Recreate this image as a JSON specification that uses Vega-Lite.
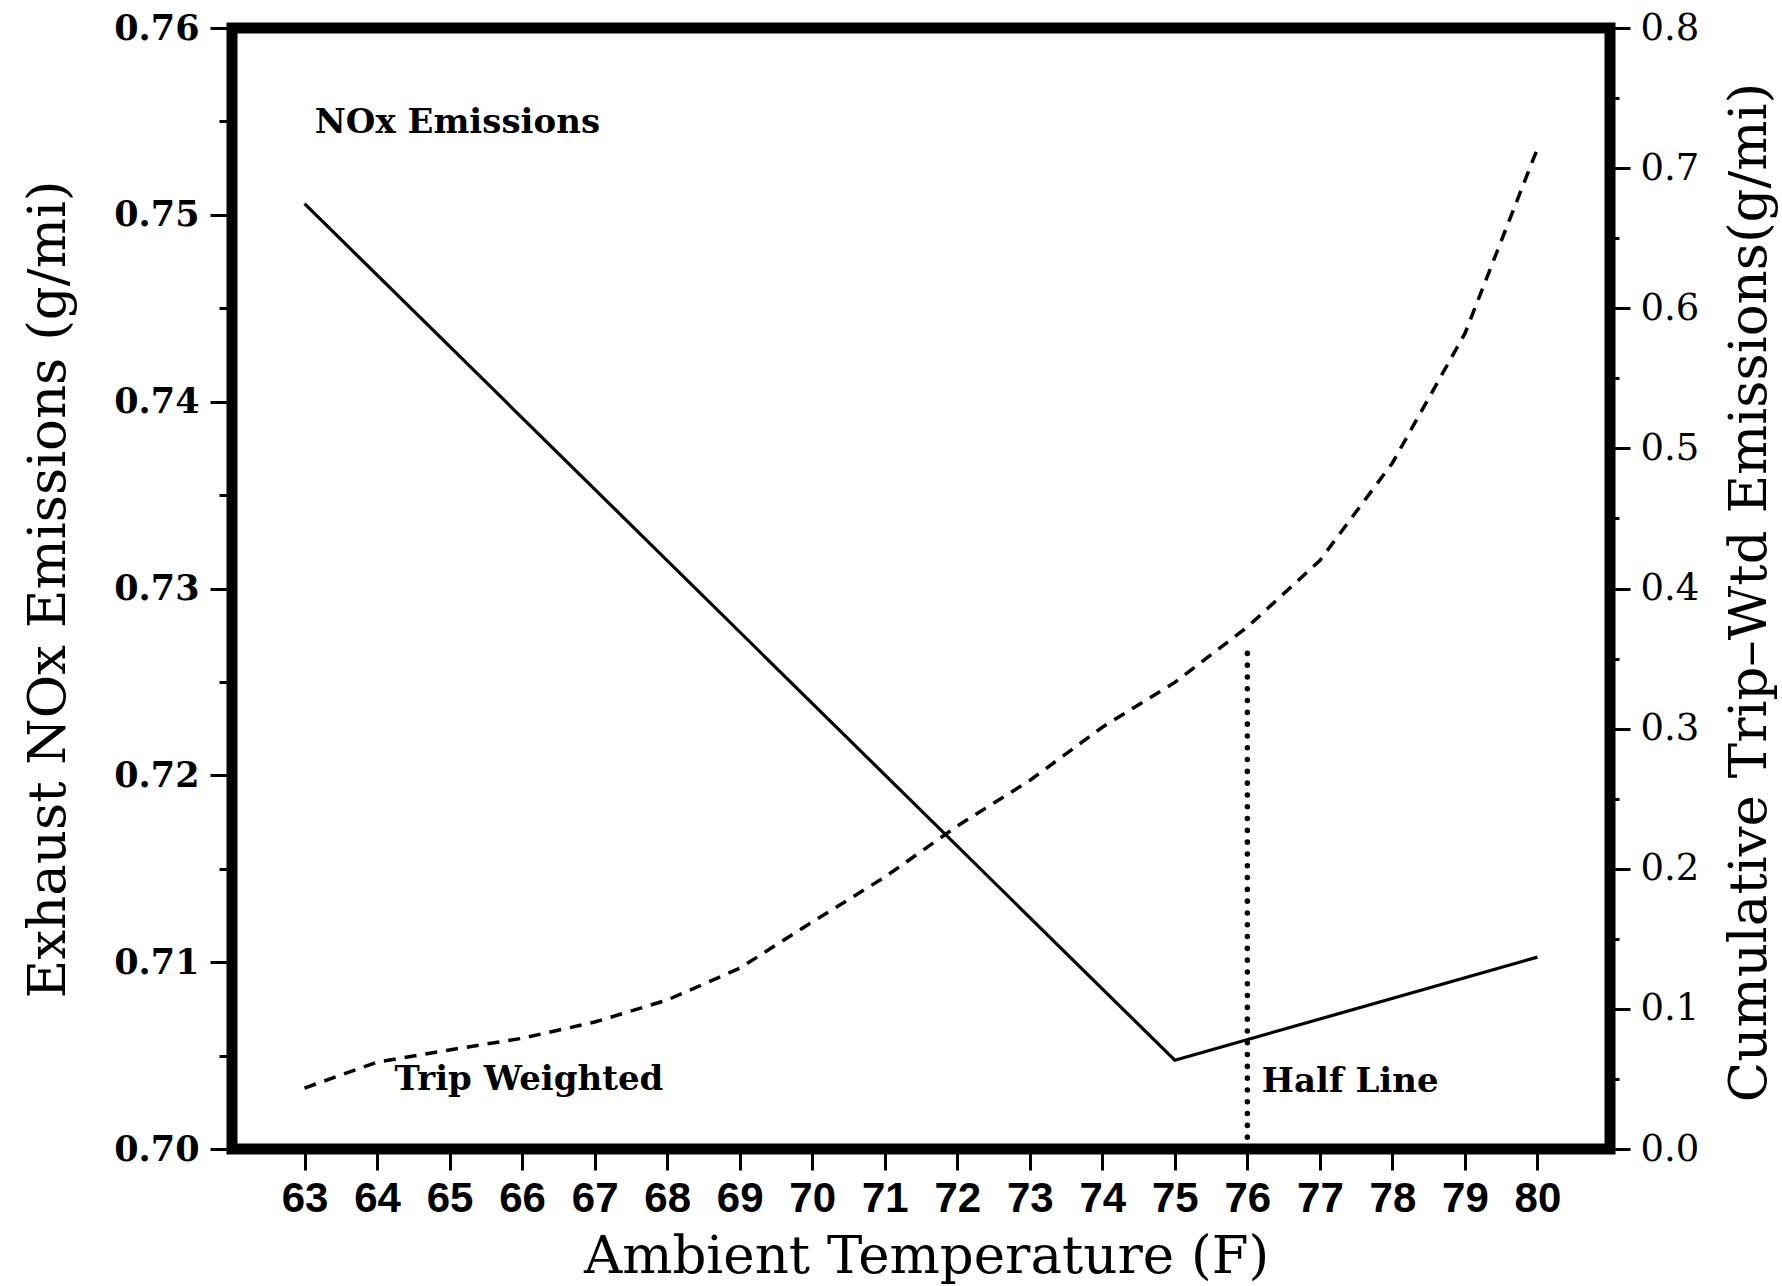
{
  "$schema": "https://vega.github.io/schema/vega-lite/v6.json",
  "width": 1378,
  "height": 1121,
  "autosize": {"type": "none"},
  "padding": {"left": 232, "top": 28, "right": 172, "bottom": 137},
  "background": "white",
  "config": {
    "view": {"stroke": "black", "strokeWidth": 11},
    "axis": {
      "domain": false,
      "grid": false,
      "tickColor": "black",
      "tickWidth": 3,
      "labelColor": "black",
      "titleColor": "black",
      "titleFont": "DejaVu Serif",
      "titleFontWeight": "normal",
      "titleFontSize": 53,
      "labelOverlap": false,
      "labelBound": false,
      "labelFlush": false
    }
  },
  "datasets": {
    "nox": [
      {"temp": 63, "nox": 0.7506},
      {"temp": 75, "nox": 0.70475},
      {"temp": 80, "nox": 0.71027}
    ],
    "labels": [
      {"temp": 63.14, "nox": 0.75438, "label": "NOx Emissions"},
      {"temp": 64.24, "nox": 0.70315, "label": "Trip Weighted"},
      {"temp": 76.2, "nox": 0.70304, "label": "Half Line"}
    ],
    "trip": [
      {"temp": 63, "cum": 0.0435},
      {"temp": 64, "cum": 0.062},
      {"temp": 65, "cum": 0.0707},
      {"temp": 66, "cum": 0.079},
      {"temp": 67, "cum": 0.0906},
      {"temp": 68, "cum": 0.1063},
      {"temp": 69, "cum": 0.129},
      {"temp": 70, "cum": 0.162},
      {"temp": 71, "cum": 0.194},
      {"temp": 72, "cum": 0.2305},
      {"temp": 73, "cum": 0.263},
      {"temp": 74, "cum": 0.301},
      {"temp": 75, "cum": 0.333},
      {"temp": 76, "cum": 0.3725},
      {"temp": 77, "cum": 0.42},
      {"temp": 78, "cum": 0.4896},
      {"temp": 79, "cum": 0.582},
      {"temp": 80, "cum": 0.714}
    ],
    "half": [
      {"temp": 76, "lo": 0, "hi": 0.358}
    ]
  },
  "encoding": {
    "x": {
      "field": "temp",
      "type": "quantitative",
      "scale": {"domain": [62, 81], "nice": false, "zero": false},
      "axis": {
        "orient": "bottom",
        "title": "Ambient Temperature (F)",
        "values": [63, 64, 65, 66, 67, 68, 69, 70, 71, 72, 73, 74, 75, 76, 77, 78, 79, 80],
        "tickSize": 21,
        "labelFont": "Liberation Sans",
        "labelFontWeight": "bold",
        "labelFontSize": 42,
        "labelPadding": 8,
        "titleX": 694,
        "titleY": 123,
        "titleAlign": "center",
        "titleBaseline": "alphabetic"
      }
    }
  },
  "layer": [
    {
      "layer": [
        {
          "data": {"name": "nox"},
          "mark": {"type": "line", "color": "black", "strokeWidth": 3.2},
          "encoding": {
            "y": {
              "field": "nox",
              "type": "quantitative",
              "scale": {"domain": [0.7, 0.76], "nice": false, "zero": false},
              "axis": {
                "orient": "left",
                "title": "Exhaust NOx Emissions (g/mi)",
                "values": [0.7, 0.705, 0.71, 0.715, 0.72, 0.725, 0.73, 0.735, 0.74, 0.745, 0.75, 0.755, 0.76],
                "labelExpr": "abs(datum.value*100 - round(datum.value*100)) < 0.01 ? format(datum.value, '.2f') : ''",
                "tickSize": {"condition": {"test": "abs(datum.value*100 - round(datum.value*100)) < 0.01", "value": 22}, "value": 13},
                "labelFont": "DejaVu Serif",
                "labelFontWeight": "bold",
                "labelFontSize": 35,
                "labelPadding": 11,
                "titleAngle": 270,
                "titleX": -168,
                "titleY": 561,
                "titleAlign": "center",
                "titleBaseline": "alphabetic"
              }
            }
          }
        },
        {
          "data": {"name": "labels"},
          "mark": {"type": "text", "font": "DejaVu Serif", "fontWeight": "bold", "fontSize": 34, "align": "left", "baseline": "alphabetic", "color": "black"},
          "encoding": {
            "y": {"field": "nox", "type": "quantitative", "scale": {"domain": [0.7, 0.76], "nice": false, "zero": false}},
            "text": {"field": "label"}
          }
        }
      ]
    },
    {
      "layer": [
        {
          "data": {"name": "trip"},
          "mark": {"type": "line", "color": "black", "strokeWidth": 3.5, "strokeDash": [12, 9]},
          "encoding": {
            "y": {
              "field": "cum",
              "type": "quantitative",
              "scale": {"domain": [0, 0.8], "nice": false, "zero": false},
              "axis": {
                "orient": "right",
                "title": "Cumulative Trip–Wtd Emissions(g/mi)",
                "values": [0, 0.05, 0.1, 0.15, 0.2, 0.25, 0.3, 0.35, 0.4, 0.45, 0.5, 0.55, 0.6, 0.65, 0.7, 0.75, 0.8],
                "labelExpr": "abs(datum.value*10 - round(datum.value*10)) < 0.01 ? format(datum.value, '.1f') : ''",
                "tickSize": {"condition": {"test": "abs(datum.value*10 - round(datum.value*10)) < 0.01", "value": 20}, "value": 9},
                "labelFont": "DejaVu Serif",
                "labelFontWeight": "normal",
                "labelFontSize": 37,
                "labelPadding": 10,
                "titleAngle": 270,
                "titleX": 155,
                "titleY": 564,
                "titleAlign": "center",
                "titleBaseline": "alphabetic"
              }
            }
          }
        },
        {
          "data": {"name": "half"},
          "mark": {"type": "rule", "color": "black", "strokeWidth": 5.5, "strokeDash": [0.1, 11.7], "strokeCap": "round"},
          "encoding": {
            "y": {"field": "lo", "type": "quantitative", "scale": {"domain": [0, 0.8], "nice": false, "zero": false}},
            "y2": {"field": "hi"}
          }
        }
      ]
    }
  ],
  "resolve": {"scale": {"y": "independent"}, "axis": {"y": "independent"}}
}
